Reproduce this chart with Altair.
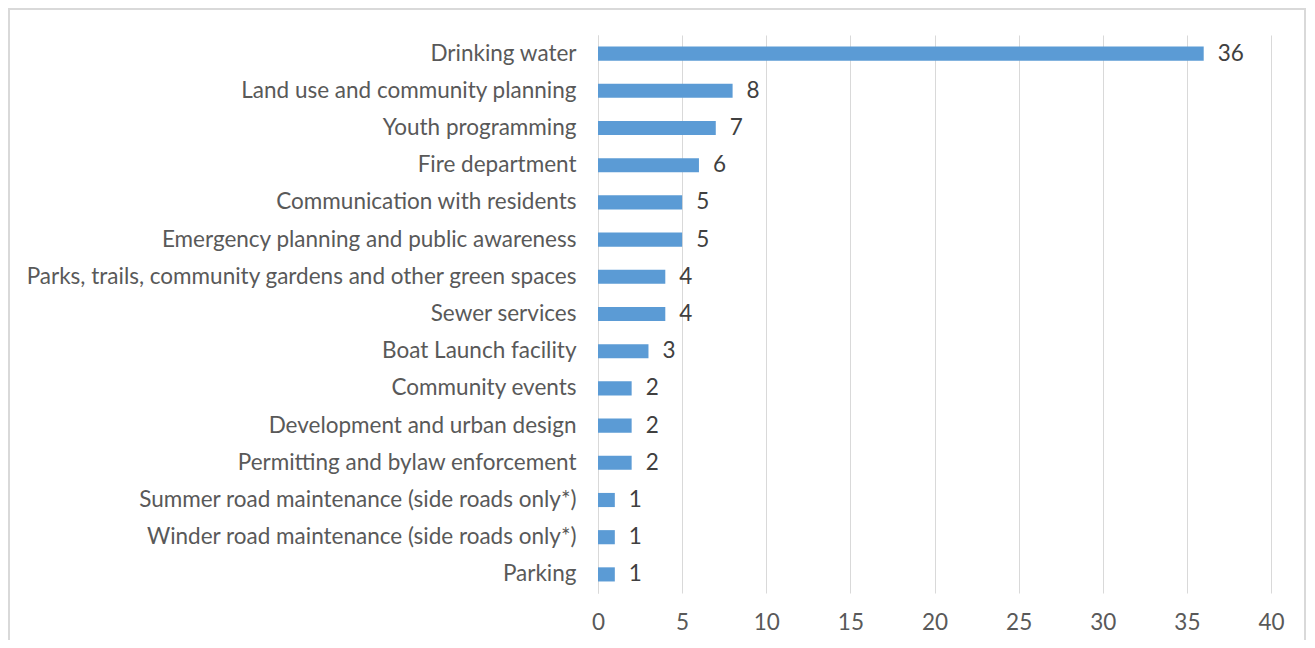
import altair as alt
import pandas as pd

categories = [
    "Drinking water",
    "Land use and community planning",
    "Youth programming",
    "Fire department",
    "Communication with residents",
    "Emergency planning and public awareness",
    "Parks, trails, community gardens and other green spaces",
    "Sewer services",
    "Boat Launch facility",
    "Community events",
    "Development and urban design",
    "Permitting and bylaw enforcement",
    "Summer road maintenance (side roads only*)",
    "Winder road maintenance (side roads only*)",
    "Parking",
]
values = [36, 8, 7, 6, 5, 5, 4, 4, 3, 2, 2, 2, 1, 1, 1]
x_ticks = [0, 5, 10, 15, 20, 25, 30, 35, 40]

df = pd.DataFrame({"category": categories, "value": values})

FONT = "Lato"
FS = 22.5
W, H = 673, 558

y_enc = alt.Y("category:N", sort=categories, title=None,
              scale=alt.Scale(paddingInner=0.62, paddingOuter=0.31),
              axis=alt.Axis(ticks=False, domain=True, domainColor="#d9d9d9",
                            labelPadding=22, labelFontSize=FS, labelColor="#595959",
                            labelFont=FONT, labelLimit=700))
x_enc = alt.X("value:Q", title=None,
              scale=alt.Scale(domain=[0, 40]),
              axis=alt.Axis(values=x_ticks, grid=True, gridColor="#d9d9d9",
                            domain=False, ticks=False, labelPadding=18,
                            labelFlush=False,
                            labelFontSize=FS, labelColor="#595959", labelFont=FONT))

bars = alt.Chart(df).mark_bar(color="#5B9BD5").encode(x=x_enc, y=y_enc)
labels = alt.Chart(df).mark_text(align="left", dx=14, fontSize=FS, color="#404040",
                                 font=FONT).encode(
    x="value:Q", y=alt.Y("category:N", sort=categories), text="value:Q")

border = alt.Chart(pd.DataFrame({"a": [0]})).mark_rect(
    fill=None, stroke="#d9d9d9", strokeWidth=2).encode(
    x=alt.value(-589), x2=alt.value(707), y=alt.value(-26), y2=alt.value(700))

chart = alt.layer(border, bars, labels).properties(
    width=W, height=H,
    background="white",
    autosize=alt.AutoSizeParams(type="none"),
    padding={"left": 590, "top": 27, "right": 36, "bottom": 47},
).configure_view(stroke=None)

chart.save("out.html", embed_options={"renderer": "svg", "actions": False})
